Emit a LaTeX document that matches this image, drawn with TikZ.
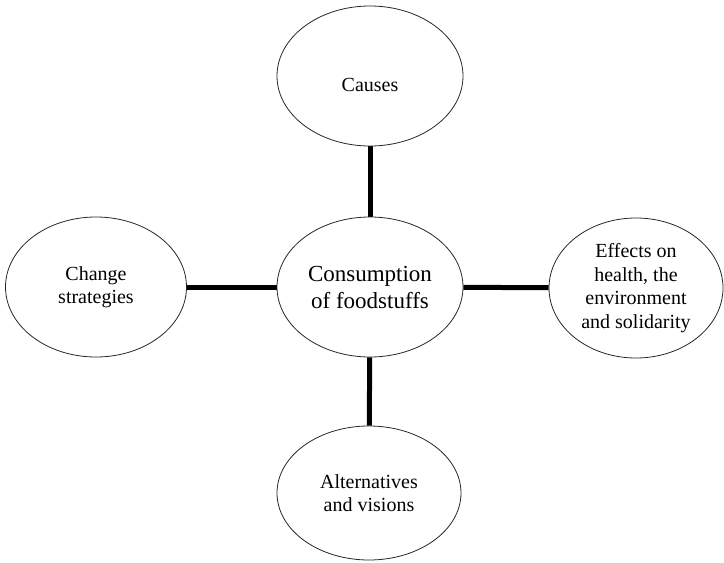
\documentclass[tikz,border=0pt]{standalone}
\usepackage{fontspec}
\setmainfont{Liberation Serif}
\usepackage{tikz}
\usetikzlibrary{shapes.geometric}
\pgfdeclarelayer{edgelayer}
\pgfdeclarelayer{nodelayer}
\pgfsetlayers{edgelayer,nodelayer,main}
\tikzstyle{bubble}=[ellipse,draw=black!85,line width=0.8pt,fill=white,inner sep=0pt,align=center,minimum width=186pt,minimum height=140pt,font=\fontsize{20}{23.5}\selectfont]
\tikzstyle{hub}=[bubble,font=\fontsize{23}{27}\selectfont]
\tikzstyle{link}=[draw=black,line width=5pt]

\begin{document}
\begin{tikzpicture}[x=1pt,y=-1pt]
	\useasboundingbox (0,0) rectangle (724,563);
	\begin{pgfonlayer}{nodelayer}
		\node [style=hub] (0) at (370, 287) {Consumption\\of foodstuffs};
		\node [style=bubble] (1) at (370, 76) {\raisebox{-9pt}[\height][\depth]{Causes}};
		\node [style=bubble,minimum width=181pt] (2) at (96, 287) {Change\\strategies};
		\node [style=bubble,minimum width=174pt] (3) at (636, 288) {Effects on\\health, the\\environment\\and solidarity};
		\node [style=bubble,minimum width=184pt,minimum height=134pt] (4) at (369, 493) {Alternatives\\and visions};
	\end{pgfonlayer}
	\begin{pgfonlayer}{edgelayer}
		\draw [style=link] (0) to (1);
		\draw [style=link] (0) to (2);
		\draw [style=link] (0) to (3);
		\draw [style=link] (0) to (4);
	\end{pgfonlayer}
\end{tikzpicture}
\end{document}
